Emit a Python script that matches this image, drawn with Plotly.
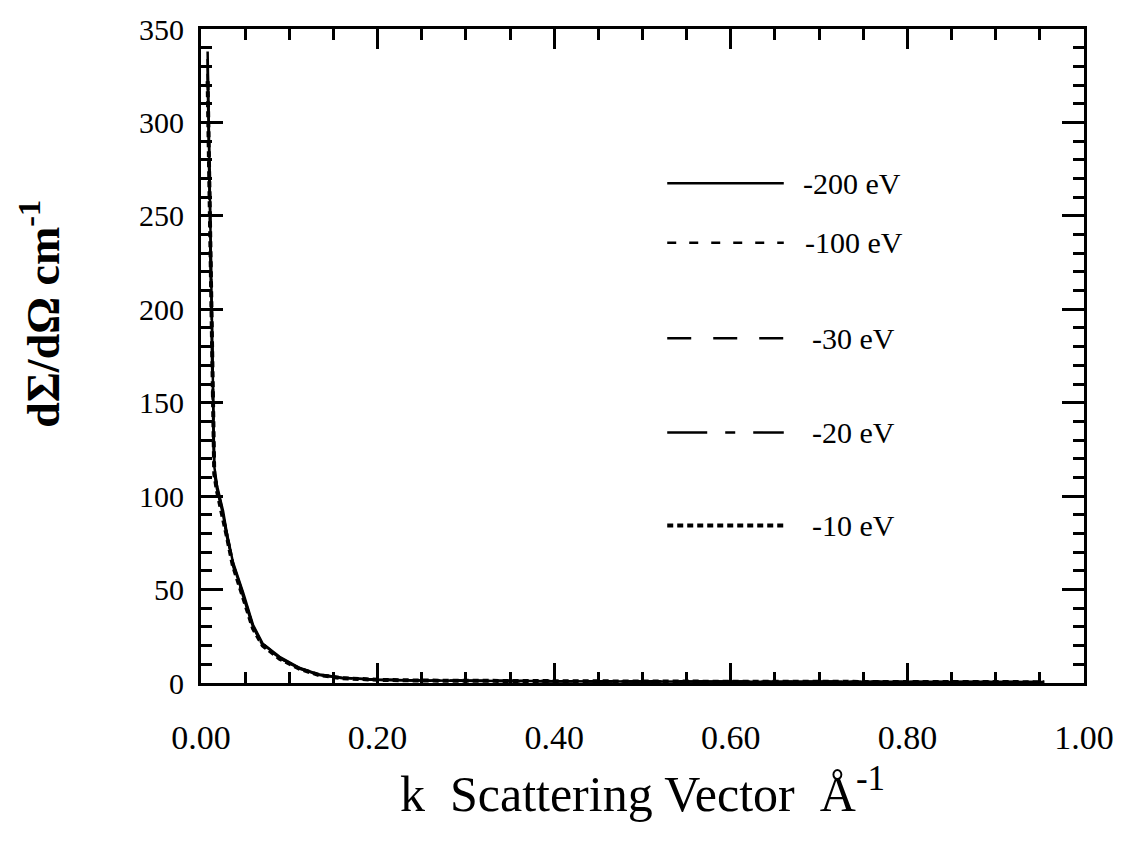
import plotly.graph_objects as go

# Scattering vector k (1/Angstrom) and differential cross sections for each energy
k = [0.0075, 0.009, 0.011, 0.013, 0.015, 0.018, 0.021, 0.025, 0.029, 0.036,
     0.048, 0.059, 0.070, 0.089, 0.112, 0.134, 0.160, 0.200, 0.250, 0.300,
     0.400, 0.500, 0.600, 0.700, 0.800, 0.900, 0.955]

sig_200 = [338, 292, 222, 162, 116, 106, 100, 92, 81, 65,
           48, 31, 21, 14, 8.0, 4.5, 2.8, 1.8, 1.4, 1.2,
           1.0, 0.8, 0.7, 0.6, 0.55, 0.5, 0.5]
sig_100 = [334, 290, 220, 160, 115, 105, 99, 91, 80, 64,
           47, 30, 21, 13.5, 7.8, 4.4, 2.7, 1.8, 1.4, 1.2,
           1.0, 0.8, 0.7, 0.6, 0.55, 0.5, 0.5]
sig_30 = [330, 288, 218, 158, 114, 104, 98, 90, 80, 64,
          47, 30, 20, 13.5, 7.7, 4.3, 2.7, 1.7, 1.3, 1.1,
          0.9, 0.8, 0.7, 0.6, 0.5, 0.5, 0.45]
sig_20 = [326, 286, 216, 157, 113, 104, 98, 90, 79, 63,
          46, 30, 20, 13.3, 7.6, 4.3, 2.6, 1.7, 1.3, 1.1,
          0.9, 0.8, 0.7, 0.6, 0.5, 0.5, 0.45]
sig_10 = [322, 284, 214, 155, 112, 103, 97, 89, 79, 63,
          46, 29, 20, 13.0, 7.5, 4.2, 2.6, 1.7, 1.3, 1.1,
          0.9, 0.8, 0.7, 0.6, 0.5, 0.45, 0.45]

labels = ["-200 eV", "-100 eV", "-30 eV", "-20 eV", "-10 eV"]
series = [sig_200, sig_100, sig_30, sig_20, sig_10]
dashes = ["solid", "9px,13px", "24px,22px", "40px,18px,10px,18px", "6px,4px"]
widths = [2.5, 2.5, 2.5, 2.5, 4]

FONT = "Liberation Serif"

fig = go.Figure()
for lab, ys, d, w in zip(labels, series, dashes, widths):
    fig.add_trace(go.Scatter(x=k, y=ys, mode="lines", name=lab,
                             line=dict(color="black", width=w, dash=d),
                             showlegend=False))

# Hand-placed key: line sample plus label for each energy
key_rows = [0.764, 0.673, 0.527, 0.383, 0.241]
key_text_x = [0.680, 0.682, 0.690, 0.690, 0.690]
for lab, d, w, yp, tx in zip(labels, dashes, widths, key_rows, key_text_x):
    fig.add_shape(type="line", xref="paper", yref="paper",
                  x0=0.528, x1=0.660, y0=yp, y1=yp,
                  line=dict(color="black", width=w, dash=d))
    fig.add_annotation(xref="paper", yref="paper", x=tx, y=yp, text=lab,
                       showarrow=False, xanchor="left", yanchor="middle",
                       font=dict(family=FONT, size=30, color="black"))

# Y-axis title
fig.add_annotation(xref="paper", yref="paper", x=-0.182, y=0.565,
                   text="<b>dΣ/dΩ cm<sup>-1</sup></b>", textangle=-90,
                   showarrow=False, xanchor="center", yanchor="middle",
                   font=dict(family=FONT, size=46, color="black"))

axis_common = dict(showline=True, linecolor="black", linewidth=3,
                   mirror="allticks", ticks="inside", tickcolor="black",
                   tickwidth=2.5, showgrid=False, zeroline=False)

fig.update_xaxes(range=[0, 1.0], tickvals=[0, 0.2, 0.4, 0.6, 0.8, 1.0],
                 tickformat=".2f", ticklen=20, ticklabelstandoff=22,
                 tickfont=dict(family=FONT, size=34, color="black"),
                 minor=dict(dtick=0.05, ticks="inside", ticklen=11,
                            tickwidth=2.5, tickcolor="black"),
                 title=dict(text="k  Scattering Vector  Å<sup>-1</sup>",
                            font=dict(family=FONT, size=50, color="black"),
                            standoff=22),
                 **axis_common)
fig.update_yaxes(range=[0, 350], tickvals=list(range(0, 351, 50)), ticklen=22,
                 ticklabelstandoff=8,
                 tickfont=dict(family=FONT, size=30, color="black"),
                 minor=dict(dtick=10, ticks="inside", ticklen=11,
                            tickwidth=2.5, tickcolor="black"),
                 **axis_common)

fig.update_layout(width=1126, height=841, paper_bgcolor="white",
                  plot_bgcolor="white",
                  margin=dict(l=201, r=38, t=27, b=158))

fig.write_html("out.html")
